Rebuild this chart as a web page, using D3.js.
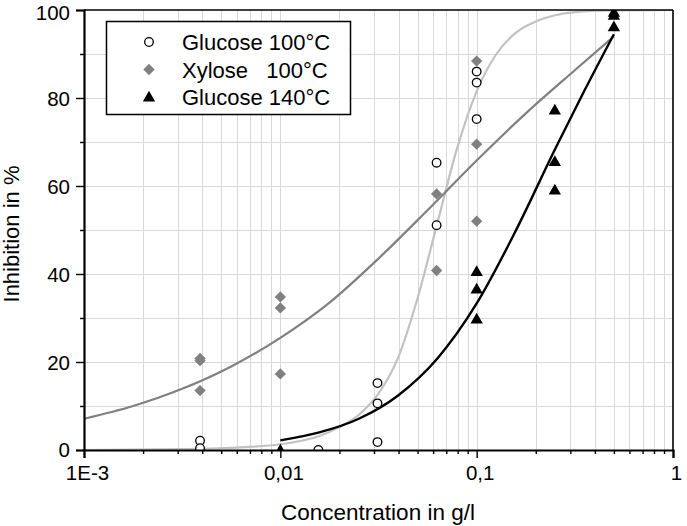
<!DOCTYPE html>
<html><head><meta charset="utf-8">
<script src="https://cdn.jsdelivr.net/npm/d3@7"></script>
<style>
body{margin:0;background:#fff;}
svg{display:block;font-family:"Liberation Sans",Arial,sans-serif;}
</style></head>
<body>
<svg id="chart" width="687" height="526"></svg>
<script>
// ---- data ----
const seriesNames = ["Glucose 100°C", "Xylose   100°C", "Glucose 140°C"];
const glucose100X = [0.0039, 0.0039, 0.015625, 0.03125, 0.03125, 0.03125, 0.0625, 0.0625, 0.1, 0.1, 0.1];
const glucose100Y = [2.1, 0.4, 0.0, 15.2, 10.6, 1.8, 65.3, 51.1, 86.0, 83.5, 75.2];
const xylose100X = [0.0039, 0.0039, 0.0039, 0.01, 0.01, 0.01, 0.0625, 0.0625, 0.1, 0.1, 0.1];
const xylose100Y = [20.8, 20.3, 13.5, 34.8, 32.3, 17.3, 58.2, 40.8, 88.4, 69.5, 52.0];
const glucose140X = [0.01, 0.1, 0.1, 0.1, 0.25, 0.25, 0.25, 0.5, 0.5, 0.5];
const glucose140Y = [0.0, 40.6, 36.6, 29.8, 77.3, 65.6, 59.1, 99.5, 98.8, 96.2];
// fitted curves
const fitGlucose100X = [0.001, 0.00316, 0.0063, 0.01, 0.0158, 0.02, 0.0251, 0.0316, 0.0398, 0.05, 0.063, 0.0794, 0.1, 0.126, 0.158, 0.2, 0.251, 0.316, 0.5, 1];
const fitGlucose100Y = [0.0, 0.2, 0.6, 1.3, 3.2, 5.2, 8.0, 12.8, 21.0, 34.5, 51.5, 68.5, 81.5, 90.0, 94.8, 97.4, 98.8, 99.5, 99.9, 100];
const fitXyloseX = [0.001, 0.00178, 0.00316, 0.00562, 0.01, 0.0178, 0.0316, 0.0562, 0.1, 0.178, 0.316, 0.5];
const fitXyloseY = [7.1, 10.0, 13.9, 19.0, 25.5, 33.5, 43.5, 54.5, 65.8, 76.5, 86.3, 94.0];
const fitGlucose140X = [0.01, 0.0158, 0.0251, 0.0398, 0.0631, 0.1, 0.158, 0.251, 0.355, 0.5];
const fitGlucose140Y = [2.2, 4.0, 7.1, 12.4, 20.8, 33.3, 49.8, 68.4, 81.8, 94.5];
const xMajorTicks = [0.001, 0.01, 0.1, 1];
const xTickLabels = ["1E-3", "0,01", "0,1", "1"];
const yMajorTicks = [0, 20, 40, 60, 80, 100];
const yMinorTicks = [10, 30, 50, 70, 90];
const xTitle = "Concentration in g/l";
const yTitle = "Inhibition in %";

// ---- layout ----
const svg = d3.select("#chart");
const L = 84, R = 673, T = 10, B = 450;
const x = d3.scaleLog().domain([0.001, 1]).range([L, R]);
const y = d3.scaleLinear().domain([0, 100]).range([B, T]);

const xMinor = [];
[0.001, 0.01, 0.1].forEach(d => { for (let k = 2; k <= 9; k++) xMinor.push(+(d * k).toPrecision(3)); });
const yGrid = d3.range(10, 100, 10);

// grid
const grid = svg.append("g").attr("stroke", "#d8d8d8").attr("stroke-width", 1);
grid.selectAll(".gx").data(xMinor.concat([0.01, 0.1])).join("line")
  .attr("x1", d => Math.round(x(d)) + 0.5).attr("x2", d => Math.round(x(d)) + 0.5)
  .attr("y1", T).attr("y2", B);
grid.selectAll(".gy").data(yGrid).join("line")
  .attr("y1", d => Math.round(y(d)) + 0.5).attr("y2", d => Math.round(y(d)) + 0.5)
  .attr("x1", L).attr("x2", R);

// clip
svg.append("clipPath").attr("id", "clip").append("rect")
  .attr("x", L).attr("y", T).attr("width", R - L).attr("height", B - T);
const plot = svg.append("g").attr("clip-path", "url(#clip)");

// curves
const line = d3.line().x(d => x(d[0])).y(d => y(d[1])).curve(d3.curveMonotoneX);
const curves = [
  {xs: fitGlucose100X, ys: fitGlucose100Y, color: "#c2c2c2", w: 2.2},
  {xs: fitXyloseX, ys: fitXyloseY, color: "#808080", w: 2.2},
  {xs: fitGlucose140X, ys: fitGlucose140Y, color: "#000", w: 2.4}
];
curves.forEach(c => {
  plot.append("path").datum(c.xs.map((v, i) => [v, c.ys[i]]))
    .attr("d", line).attr("fill", "none").attr("stroke", c.color).attr("stroke-width", c.w);
});

// markers
const diamond = d3.symbol().type(d3.symbolSquare).size(64);
const tri = d3.symbol().type(d3.symbolTriangle).size(66);
function drawCircle(g, cx, cy) {
  g.append("circle").attr("cx", cx).attr("cy", cy).attr("r", 4.3)
    .attr("fill", "#fff").attr("stroke", "#000").attr("stroke-width", 1.3);
}
function drawDiamond(g, cx, cy) {
  g.append("path").attr("d", diamond()).attr("transform", `translate(${cx},${cy}) rotate(45)`)
    .attr("fill", "#808080");
}
function drawTri(g, cx, cy) {
  g.append("path").attr("d", tri()).attr("transform", `translate(${cx},${cy + 1})`)
    .attr("fill", "#000");
}
xylose100X.forEach((v, i) => drawDiamond(plot, x(v), y(xylose100Y[i])));
glucose100X.forEach((v, i) => drawCircle(plot, x(v), y(glucose100Y[i])));
glucose140X.forEach((v, i) => drawTri(plot, x(v), y(glucose140Y[i])));

// frame
svg.append("line").attr("x1", L).attr("x2", R).attr("y1", T).attr("y2", T).attr("stroke", "#000").attr("stroke-width", 1.6);
svg.append("line").attr("x1", R).attr("x2", R).attr("y1", T).attr("y2", B).attr("stroke", "#000").attr("stroke-width", 1.6);

// axes
const fmt = d => xTickLabels[xMajorTicks.indexOf(d)];
const xAx = svg.append("g").attr("transform", `translate(0,${B})`)
  .call(d3.axisBottom(x).tickValues(xMajorTicks).tickFormat(fmt).tickSize(8).tickPadding(7.5));
svg.append("g").attr("transform", `translate(0,${B})`)
  .call(d3.axisBottom(x).tickValues(xMinor).tickFormat("").tickSize(4))
  .call(g => g.select(".domain").remove());
const yAx = svg.append("g").attr("transform", `translate(${L},0)`)
  .call(d3.axisLeft(y).tickValues(yMajorTicks).tickSize(8).tickPadding(6));
svg.append("g").attr("transform", `translate(${L},0)`)
  .call(d3.axisLeft(y).tickValues(yMinorTicks).tickFormat("").tickSize(4))
  .call(g => g.select(".domain").remove());
svg.selectAll(".domain").attr("stroke-width", 2.2).attr("stroke", "#000");
svg.selectAll(".tick line").attr("stroke", "#000").attr("stroke-width", 1.4);
svg.selectAll(".tick text").attr("font-family", "Liberation Sans, Arial, sans-serif")
  .attr("font-size", 20.5).attr("fill", "#000");
xAx.selectAll(".tick text").attr("dx", 3);
// keep the top label fully inside the picture
yAx.selectAll(".tick text").attr("dy", d => d === 100 ? "0.45em" : (d === 0 ? "0.3em" : "0.36em"));

// titles
svg.append("text").attr("x", 378).attr("y", 520).attr("text-anchor", "middle")
  .attr("font-size", 22.5).text(xTitle);
svg.append("text").attr("transform", "translate(19,234) rotate(-90)").attr("text-anchor", "middle")
  .attr("font-size", 22).text(yTitle);

// legend
const lg = svg.append("g");
lg.append("rect").attr("x", 106.5).attr("y", 21.5).attr("width", 244).attr("height", 93)
  .attr("fill", "#fff").attr("stroke", "#000").attr("stroke-width", 1.5);
const rowsY = [42, 69.5, 97];
drawCircle(lg, 149, rowsY[0]);
drawDiamond(lg, 149, rowsY[1]);
drawTri(lg, 149, rowsY[2]);
seriesNames.forEach((n, i) => {
  lg.append("text").attr("x", 182).attr("y", rowsY[i] + 8).attr("font-size", 22)
    .style("white-space", "pre").attr("xml:space", "preserve").text(n);
});
</script>
</body></html>
